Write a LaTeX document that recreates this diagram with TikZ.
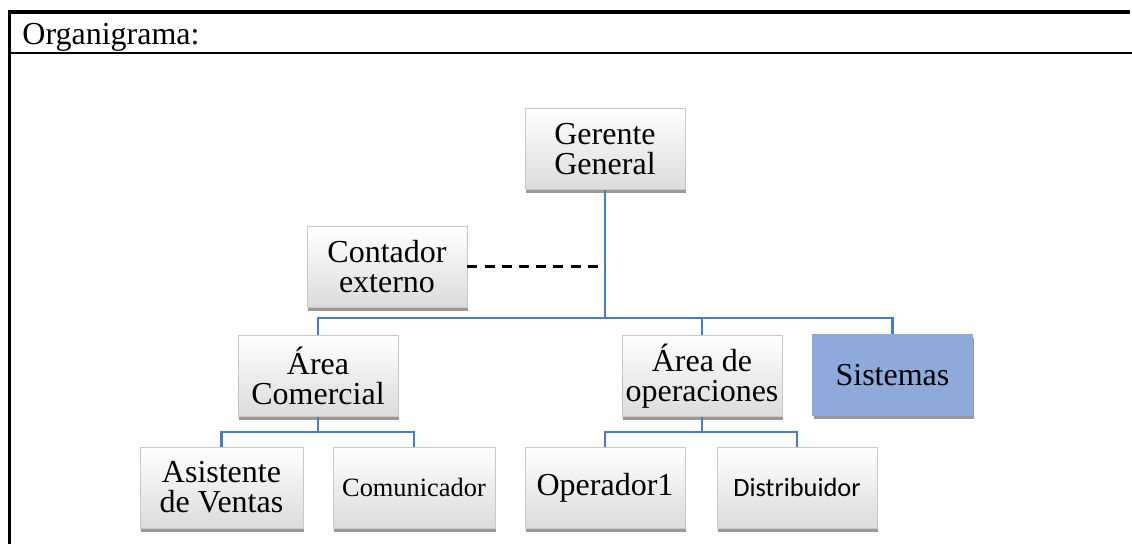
\documentclass[tikz,border=0pt]{standalone}
\usepackage{fontspec}
\setmainfont{Liberation Serif}
\newfontfamily\calib{Carlito}
\usetikzlibrary{shadows}
\definecolor{connblue}{HTML}{4A7EBB}
\definecolor{sysblue}{HTML}{8EAADB}
\definecolor{boxline}{HTML}{C8C8C8}
\tikzset{
  orgbox/.style={rectangle, draw=boxline, line width=0.4pt, top color=white, bottom color=black!14,
    minimum width=80pt, minimum height=40.5pt, align=center, inner sep=1pt,
    font=\fontsize{16}{15}\selectfont,
    drop shadow={shadow xshift=0.6pt, shadow yshift=-1.8pt, fill=black!50, opacity=0.8}},
  sysbox/.style={orgbox, top color=sysblue, bottom color=sysblue, draw=sysblue},
  conn/.style={draw=connblue, line width=1.4pt},
  dashline/.style={draw=black, line width=1.5pt, dash pattern=on 5pt off 3.6pt},
}
\begin{document}
\begin{tikzpicture}[x=0.5pt,y=-0.5pt]
\useasboundingbox (0,0) rectangle (1132,544);
% frame
\draw[line width=2pt] (8,12) -- (1130,12);
\draw[line width=1pt] (8,53) -- (1132,53);
\draw[line width=1.5pt] (9,11) -- (9,544);
\node[anchor=base west, inner sep=0pt, font=\fontsize{16}{15}\selectfont] (title) at (22,45) {Organigrama:};
% nodes
\node[orgbox] (G) at (605,149) {Gerente\\General};
\node[orgbox] (CE) at (387,267) {Contador\\externo};
\node[orgbox] (AC) at (318,376) {Área\\Comercial};
\node[orgbox] (AO) at (702,376) {Área de\\operaciones};
\node[sysbox] (S) at (892.5,375) {Sistemas};
\node[orgbox, minimum width=81.5pt] (AS) at (221.5,487.5) {Asistente\\de Ventas};
\node[orgbox, minimum width=81pt, font=\fontsize{13.2}{13}\selectfont] (CO) at (414,487.5) {Comunicador};
\node[orgbox] (OP) at (605,487.5) {Operador1};
\node[orgbox, font=\calib\fontsize{13.2}{13}\selectfont] (DI) at (797,487.5) {Distribuidor};
% connectors
\coordinate (b0) at (605,318);
\coordinate (d0) at (605,267);
\coordinate (c1) at (318,432);
\coordinate (c2) at (702,432);
\draw[conn] (G.south) -- (b0);
\draw[conn] (AC.north) |- (b0) -| (S.north);
\draw[conn] (b0) -| (AO.north);
\draw[conn] (AC.south) -- (c1);
\draw[conn] (AS.north) |- (c1) -| (CO.north);
\draw[conn] (AO.south) -- (c2);
\draw[conn] (OP.north) |- (c2) -| (DI.north);
\draw[dashline] (CE.east) -- (d0);
\end{tikzpicture}
\end{document}
